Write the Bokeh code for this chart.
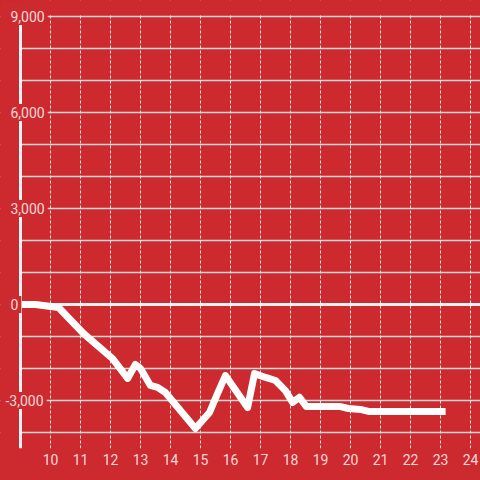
from bokeh.plotting import figure
from bokeh.models import (FixedTicker, Label, Range1d, GlobalInlineStyleSheet)
from bokeh.embed import file_html
from bokeh.resources import INLINE

# ---- data ----
x_vals = [8.9, 9.5, 10.27, 11.1, 12.07, 12.57, 12.83, 13.0, 13.33, 13.57, 13.83,
          14.83, 15.3, 15.57, 15.83, 16.57, 16.8, 17.17, 17.5, 17.83, 18.07, 18.3,
          18.53, 19.67, 19.93, 20.33, 20.6, 23.17]
y_vals = [0, 0, -94, -906, -1690, -2310, -1875, -2000, -2530, -2590, -2750,
          -3875, -3375, -2780, -2220, -3220, -2160, -2280, -2375, -2690, -3060, -2900,
          -3190, -3190, -3250, -3280, -3340, -3340]
x_ticks = list(range(10, 25))
y_grid_ticks = list(range(-4000, 9001, 1000))
y_label_vals = [9000, 6000, 3000, 0, -3000]
y_label_text = ["9,000", "6,000", "3,000", "0", "-3,000"]

X_MIN, X_AXIS, X_MAX = 8.3333, 9, 24.3333
Y_MIN, Y_TOP, Y_MAX = -4500, 9000, 9500

RED = "#CC2A2F"
TXT = "#f5d8d9"
LINE = "#f2f2f2"
FONT = "Roboto"

p = figure(width=480, height=480, output_backend="svg", toolbar_location=None,
           x_range=Range1d(X_MIN, X_MAX), y_range=Range1d(Y_MIN, Y_MAX),
           y_axis_location=None,
           min_border_left=0, min_border_right=0, min_border_top=0, min_border_bottom=32,
           background_fill_color=RED, border_fill_color=RED, outline_line_color=None)

p.stylesheets = [GlobalInlineStyleSheet(css="body{margin:0;background:%s;}" % RED)]

# grids
p.xgrid.ticker = FixedTicker(ticks=x_ticks)
p.xgrid.grid_line_color = "#e6e6e6"
p.xgrid.grid_line_width = 1
p.xgrid.grid_line_dash = "3 2"
p.ygrid.ticker = FixedTicker(ticks=y_grid_ticks)
p.ygrid.grid_line_color = "#d9d9d9"
p.ygrid.grid_line_width = 1.3

# hide the grid left of the axis and above the top gridline (glyph level, above grid)
p.quad(left=[X_MIN], right=[X_AXIS], bottom=[Y_MIN], top=[Y_MAX],
       fill_color=RED, line_color=None)
p.quad(left=[X_MIN], right=[X_MAX], bottom=[Y_TOP + 50], top=[Y_MAX],
       fill_color=RED, line_color=None)

# x axis
ax = p.xaxis[0]
ax.ticker = FixedTicker(ticks=x_ticks)
ax.axis_line_color = None
ax.major_tick_line_color = None
ax.minor_tick_line_color = None
ax.major_tick_out = 0
ax.major_tick_in = 0
ax.major_label_text_font = FONT
ax.major_label_text_font_size = "14px"
ax.major_label_text_color = TXT
ax.major_label_standoff = 5

# y axis line and zero line
p.segment(x0=[X_AXIS], y0=[Y_MIN], x1=[X_AXIS], y1=[Y_TOP],
          line_color=LINE, line_width=3)
p.segment(x0=[X_AXIS], y0=[0], x1=[X_MAX], y1=[0],
          line_color=LINE, line_width=3)

# data line
p.line(x_vals, y_vals, line_color="white", line_width=7, line_join="round", line_cap="butt")

# y labels (with background that hides the axis line behind them)
for v, t in zip(y_label_vals, y_label_text):
    p.add_layout(Label(x=X_AXIS, y=v, text=t, x_offset=(-18 if v < 0 else -13),
                       text_align="left", text_baseline="middle",
                       text_font=FONT, text_font_size="14px", text_color=TXT,
                       background_fill_color=RED, padding=3))

open("out.html", "w").write(file_html(p, INLINE))
